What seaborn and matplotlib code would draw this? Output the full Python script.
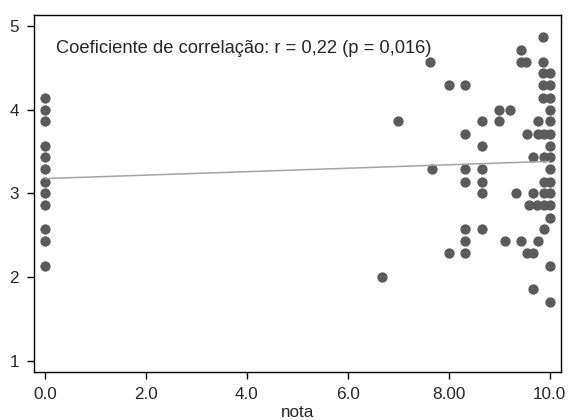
import numpy as np
import pandas as pd
import matplotlib
matplotlib.use("Agg")
import matplotlib.pyplot as plt
import seaborn as sns

# ==========================================
# DATA
# ==========================================

# students with nota = 0
zero_y = [4.14, 4.00, 3.86, 3.57, 3.43, 3.29, 3.14, 3.00, 2.86, 2.57, 2.43, 2.14]

# students with nota > 0
nota_x = [9.87,
          9.44,
          7.64, 9.44, 9.54, 9.87,
          9.87, 10.0,
          8.00, 8.33, 9.87, 10.0,
          9.87, 10.0,
          9.00, 9.22, 10.0,
          7.00, 8.67, 9.00, 9.78, 10.0,
          8.33, 9.56, 9.78, 9.89, 10.0,
          8.67, 10.0,
          9.67, 9.89, 10.0,
          7.67, 8.33, 8.67, 10.0,
          8.33, 8.67, 9.89, 10.0,
          8.67, 9.33, 9.67, 9.89, 10.0,
          9.60, 9.75, 9.89, 10.0,
          10.0,
          8.33, 8.67, 9.89,
          8.33, 9.11, 9.44, 9.78,
          8.00, 8.33, 9.56, 9.67,
          10.0,
          6.67,
          9.67,
          10.0]
score_y = [4.86,
           4.71,
           4.57, 4.57, 4.57, 4.57,
           4.43, 4.43,
           4.29, 4.29, 4.29, 4.29,
           4.14, 4.14,
           4.00, 4.00, 4.00,
           3.86, 3.86, 3.86, 3.86, 3.86,
           3.71, 3.71, 3.71, 3.71, 3.71,
           3.57, 3.57,
           3.43, 3.43, 3.43,
           3.29, 3.29, 3.29, 3.29,
           3.14, 3.14, 3.14, 3.14,
           3.00, 3.00, 3.00, 3.00, 3.00,
           2.86, 2.86, 2.86, 2.86,
           2.71,
           2.57, 2.57, 2.57,
           2.43, 2.43, 2.43, 2.43,
           2.29, 2.29, 2.29, 2.29,
           2.14,
           2.00,
           1.86,
           1.71]

x_ticks = [0, 2, 4, 6, 8, 10]
x_tick_labels = ["0.0", "2.0", "4.0", "6.0", "8.00", "10.0"]
y_ticks = [1, 2, 3, 4, 5]

df = pd.DataFrame({
    "nota": [0.0] * len(zero_y) + nota_x,
    "escore": zero_y + score_y,
})

# ==========================================
# PLOT
# ==========================================

sns.set_style("ticks")
plt.rcParams["font.family"] = ["Liberation Sans", "DejaVu Sans"]

fig = plt.figure(figsize=(5.68, 4.2), dpi=100)
ax = fig.add_axes([0.06, 0.114, 0.927, 0.851])

sns.regplot(
    data=df, x="nota", y="escore", ax=ax, ci=None,
    scatter_kws=dict(color="#5b5b5b", s=55, linewidths=0, alpha=1),
    line_kws=dict(color="#a3a3a3", lw=1.1),
)

ax.set_xlim(-0.22, 10.22)
ax.set_ylim(0.87, 5.13)
ax.set_xticks(x_ticks)
ax.set_xticklabels(x_tick_labels)
ax.set_yticks(y_ticks)
ax.set_xlabel("nota", fontsize=12.3, labelpad=2)
ax.set_ylabel("")
ax.tick_params(labelsize=12.3, length=5, width=1, color="black", pad=6)

for side in ["left", "bottom", "top", "right"]:
    ax.spines[side].set_visible(True)
    ax.spines[side].set_color("black")
    ax.spines[side].set_linewidth(1)

ax.text(0.042, 0.905, "Coeficiente de correlação: r = 0,22 (p = 0,016)",
        transform=ax.transAxes, fontsize=13.2, va="center", ha="left")

fig.savefig("out.png", dpi=100)
